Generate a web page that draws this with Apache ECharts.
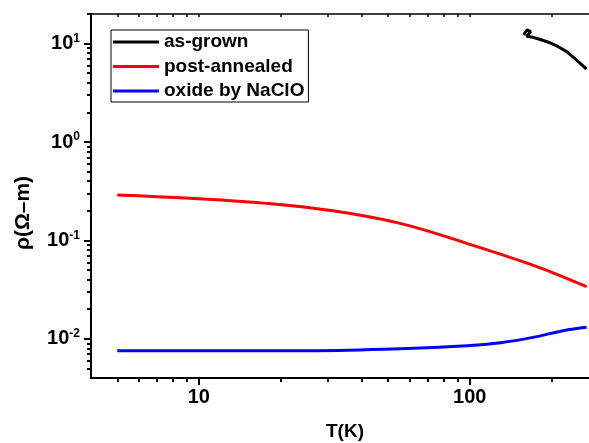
<!DOCTYPE html>
<html>
<head>
<meta charset="utf-8">
<script src="https://cdn.jsdelivr.net/npm/echarts@6/dist/echarts.min.js"></script>
<style>
  html, body { margin: 0; padding: 0; background: #fff; }
  #chart { width: 589px; height: 443px; }
</style>
</head>
<body>
<div id="chart"></div>
<script>
// 数据
var seriesNames = ['as-grown', 'post-annealed', 'oxide by NaClO'];
var seriesColors = ['#000000', '#ff0000', '#0000ff'];

var tempAsGrown = [158, 163, 168, 162, 169, 182, 198, 213, 228, 248, 270];
var rhoAsGrown = [12.3, 13.8, 13.2, 11.9, 11.7, 11.0, 10.2, 9.25, 8.3, 6.8, 5.5];

var tempAnnealed = [5, 9.3, 17.8, 31.3, 55.3, 97.5, 171, 228, 270];
var rhoAnnealed = [0.290, 0.268, 0.238, 0.200, 0.149, 0.0935, 0.0562, 0.0412, 0.0339];

var tempOxide = [5, 10, 23.6, 55.3, 97.5, 130, 171, 221, 270];
var rhoOxide = [0.00757, 0.00757, 0.00757, 0.00794, 0.00851, 0.00914, 0.01035, 0.0121, 0.0131];

// 坐标轴刻度
var xMin = 4, xMax = 300;
var xMajor = [10, 100];
var xMinor = [5, 6, 7, 8, 9, 20, 30, 40, 50, 60, 70, 80, 90, 200, 300];
var yMin = 0.004, yMax = 20;
var yMajor = [0.01, 0.1, 1, 10];
var yMinor = [0.005, 0.006, 0.007, 0.008, 0.009,
              0.02, 0.03, 0.04, 0.05, 0.06, 0.07, 0.08, 0.09,
              0.2, 0.3, 0.4, 0.5, 0.6, 0.7, 0.8, 0.9,
              2, 3, 4, 5, 6, 7, 8, 9, 20];

function zip(xs, ys){
    return xs.map(function(x, i){ return [x, ys[i]]; });
}

var font = 'Liberation Sans, Arial, sans-serif';
var myChart = echarts.init(document.getElementById('chart'));

function baseX(extra){
    var axis = {
        type: 'log',
        min: xMin,
        max: xMax,
        position: 'bottom',
        splitLine: {show: false},
        axisLine: {show: false, onZero: false, lineStyle: {color: '#000', width: 2}},
        axisTick: {show: false},
        axisLabel: {show: false}
    };
    for (var k in extra) axis[k] = extra[k];
    return axis;
}
function baseY(extra){
    var axis = {
        type: 'log',
        min: yMin,
        max: yMax,
        position: 'left',
        splitLine: {show: false},
        axisLine: {show: false, onZero: false, lineStyle: {color: '#000', width: 2}},
        axisTick: {show: false},
        axisLabel: {show: false}
    };
    for (var k in extra) axis[k] = extra[k];
    return axis;
}

var option = {
    animation: false,
    backgroundColor: '#fff',
    grid: {
        left: 91,
        top: 14,
        width: 508,
        height: 364,
        outerBoundsMode: 'none'
    },
    legend: {
        orient: 'vertical',
        left: 111,
        top: 30,
        padding: [2, 4, 1, 2],
        itemGap: 4.5,
        itemWidth: 46,
        itemHeight: 3,
        icon: 'rect',
        borderColor: '#000',
        borderWidth: 1,
        data: seriesNames,
        textStyle: {
            color: '#000',
            fontFamily: font,
            fontWeight: 'bold',
            fontSize: 19,
            lineHeight: 20
        }
    },
    xAxis: [
        baseX({
            name: 'T(K)',
            nameLocation: 'middle',
            nameGap: 44,
            nameTextStyle: {color: '#000', fontFamily: font, fontWeight: 'bold', fontSize: 19},
            axisLine: {show: true, onZero: false, lineStyle: {color: '#000', width: 2}},
            axisTick: {show: true, length: 7, lineStyle: {color: '#000', width: 2}, customValues: xMajor},
            axisLabel: {
                show: true, margin: 9, color: '#000', fontFamily: font, fontWeight: 'bold', fontSize: 20,
                customValues: xMajor
            }
        }),
        baseX({
            axisTick: {show: true, length: 4, lineStyle: {color: '#000', width: 2}, customValues: xMinor}
        }),
        baseX({
            position: 'top',
            axisLine: {show: true, onZero: false, lineStyle: {color: '#000', width: 1.5}},
            axisTick: {show: true, inside: true, length: 3, lineStyle: {color: '#000', width: 1.5},
                       customValues: xMajor.concat(xMinor)}
        })
    ],
    yAxis: [
        baseY({
            name: 'ρ(Ω–m)',
            nameLocation: 'middle',
            nameGap: 57,
            nameTextStyle: {color: '#000', fontFamily: font, fontWeight: 'bold', fontSize: 21, padding: [0, 34, 0, 0]},
            axisLine: {show: true, onZero: false, lineStyle: {color: '#000', width: 2}},
            axisTick: {show: true, length: 7, lineStyle: {color: '#000', width: 2}, customValues: yMajor},
            axisLabel: {
                show: true,
                margin: 11,
                customValues: yMajor,
                formatter: function(v){
                    return '{b|10}{s|' + Math.round(Math.log(v) / Math.LN10) + '}';
                },
                rich: {
                    b: {color: '#000', fontFamily: font, fontWeight: 'bold', fontSize: 20, lineHeight: 22},
                    s: {color: '#000', fontFamily: font, fontWeight: 'bold', fontSize: 12, lineHeight: 13, verticalAlign: 'top'}
                }
            }
        }),
        baseY({
            axisTick: {show: true, length: 4, lineStyle: {color: '#000', width: 2}, customValues: yMinor}
        })
    ],
    series: [
        {
            name: seriesNames[0],
            type: 'line',
            data: zip(tempAsGrown, rhoAsGrown),
            showSymbol: false,
            smooth: false,
            lineStyle: {color: seriesColors[0], width: 3},
            itemStyle: {color: seriesColors[0]}
        },
        {
            name: seriesNames[1],
            type: 'line',
            data: zip(tempAnnealed, rhoAnnealed),
            showSymbol: false,
            smooth: 0.4,
            lineStyle: {color: seriesColors[1], width: 3},
            itemStyle: {color: seriesColors[1]}
        },
        {
            name: seriesNames[2],
            type: 'line',
            data: zip(tempOxide, rhoOxide),
            showSymbol: false,
            smooth: 0.4,
            lineStyle: {color: seriesColors[2], width: 3},
            itemStyle: {color: seriesColors[2]}
        }
    ]
};
myChart.setOption(option);
</script>
</body>
</html>
